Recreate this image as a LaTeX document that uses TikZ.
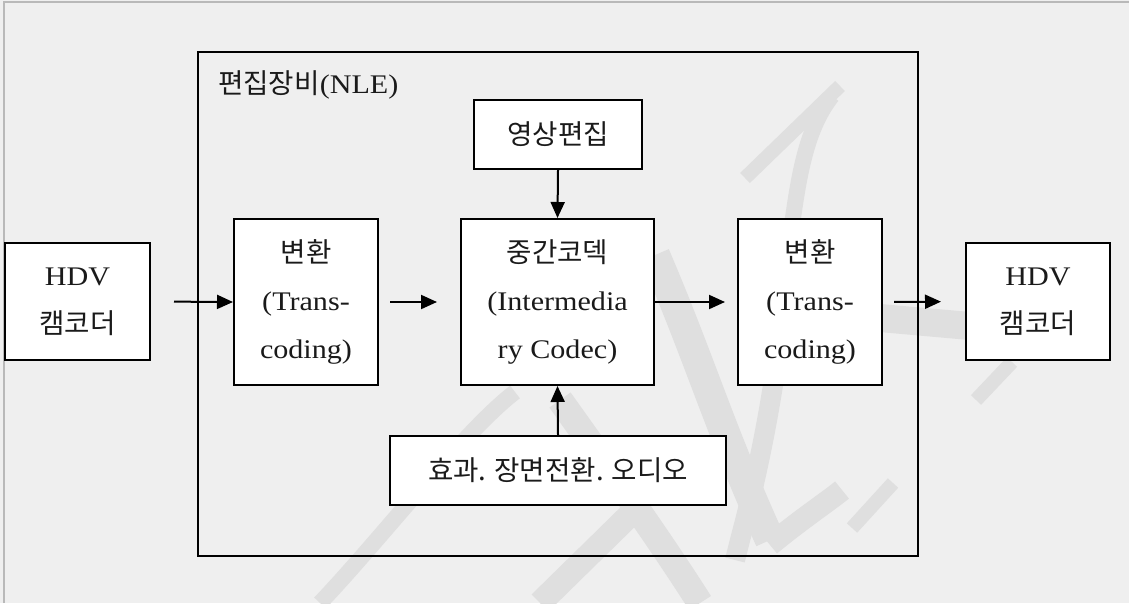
\documentclass[tikz,border=0pt]{standalone}
\usepackage{fontspec}
\setmainfont{Liberation Serif}[FakeStretch=1.12,Scale=1.12]
\newfontfamily\kr{Noto Sans CJK KR}[Scale=1.15]
\usetikzlibrary{arrows.meta}
\definecolor{bgc}{HTML}{EFEFEF}
\definecolor{wmc}{HTML}{DFDFDF}
\definecolor{txc}{HTML}{1A1A1A}
\tikzset{
  box/.style={draw=black,line width=2pt,fill=white,minimum width=#1,inner sep=0pt,align=center,text=txc,
    font=\fontsize{24}{48}\selectfont},
  arr/.style={line width=2pt,-{Triangle[length=16pt,width=14pt]}},
  wm/.style={draw=wmc,line cap=butt},
}
\begin{document}
\begin{tikzpicture}[x=1pt,y=-1pt]
\useasboundingbox (0,0) rectangle (1129,603);
\fill[bgc] (0,0) rectangle (1129,603);
\draw[gray!55,line width=1.5pt] (4,603) -- (4,2) -- (1129,2);
% watermark
\draw[wm,line width=14pt] (745,178) -- (840,86);
\draw[wm,line width=16pt] (832,96) .. controls (805,130) and (798,180) .. (790,240);
\draw[wm,line width=20pt] (790,240) .. controls (782,330) and (772,420) .. (740,540) -- (735,560);
\draw[wm,line width=30pt] (655,255) .. controls (700,360) and (720,430) .. (770,540);
\draw[wm,line width=22pt] (770,545) .. controls (800,520) and (830,500) .. (842,490);
\draw[wm,line width=16pt] (515,392) .. controls (465,430) and (380,540) .. (320,603);
\draw[wm,line width=26pt] (560,400) .. controls (610,470) and (660,540) .. (700,603);
\draw[wm,line width=24pt] (540,603) -- (640,505);
\draw[wm,line width=28pt] (880,318) -- (970,326);
\draw[wm,line width=14pt] (1012,362) -- (976,400);
\draw[wm,line width=14pt] (893,483) -- (852,528);
% NLE frame
\node[draw=black,line width=2pt,minimum width=720pt,minimum height=504pt,inner sep=0pt] (nle) at (558,304) {};
\node[anchor=west,text=txc,font=\fontsize{24}{30}\selectfont,inner sep=0pt] (nlelabel) at (218,85) {{\kr 편집장비}(NLE)};
% boxes
\node[box=145pt,minimum height=117pt] (hdvL) at (77.5,301.5) {HDV\\{\kr 캠코더}};
\node[box=144pt,minimum height=166pt] (conv1) at (306,302) {{\kr 변환}\\(Trans-\\coding)};
\node[box=193pt,minimum height=166pt] (codec) at (557.5,302) {{\kr 중간코덱}\\(Intermedia\\ry Codec)};
\node[box=144pt,minimum height=166pt] (conv2) at (810,302) {{\kr 변환}\\(Trans-\\coding)};
\node[box=144pt,minimum height=117pt] (hdvR) at (1038,301.5) {HDV\\{\kr 캠코더}};
\node[box=168pt,minimum height=69pt] (edit) at (558,134.5) {{\kr 영상편집}};
\node[box=336pt,minimum height=69pt] (fx) at (558,470.5) {{\kr 효과.\hspace{8pt}장면전환.\hspace{8pt}오디오}};
% arrows
\draw[arr,shorten <=23pt] (hdvL.east) -- (conv1.west);
\draw[arr,shorten <=11pt,shorten >=23pt] (conv1.east) -- (codec.west);
\draw[arr,shorten >=12pt] (codec.east) -- (conv2.west);
\draw[arr,shorten <=11pt,shorten >=24pt] (conv2.east) -- (hdvR.west);
\draw[arr] (edit.south) -- (codec.north);
\draw[arr] (fx.north) -- (codec.south);
\end{tikzpicture}
\end{document}
